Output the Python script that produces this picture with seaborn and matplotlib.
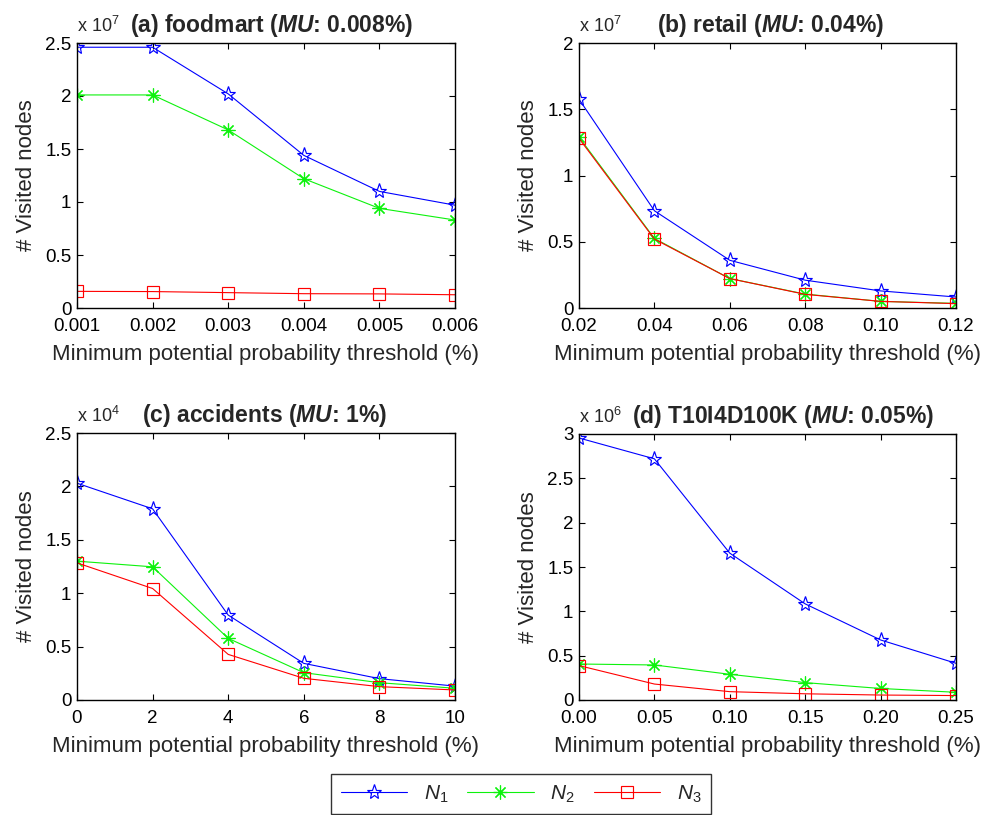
import numpy as np
import pandas as pd
import matplotlib
matplotlib.use("Agg")
import matplotlib.pyplot as plt
from matplotlib.ticker import FuncFormatter, FixedLocator
import seaborn as sns

# ---------------- data ----------------
series_names = ["$N_1$", "$N_2$", "$N_3$"]

foodmart_x = [0.001, 0.002, 0.003, 0.004, 0.005, 0.006]
foodmart_xticklabels = ["0.001", "0.002", "0.003", "0.004", "0.005", "0.006"]
foodmart_n1 = [2.46e7, 2.46e7, 2.02e7, 1.44e7, 1.10e7, 0.97e7]
foodmart_n2 = [2.01e7, 2.01e7, 1.68e7, 1.22e7, 0.94e7, 0.83e7]
foodmart_n3 = [0.157e7, 0.155e7, 0.145e7, 0.135e7, 0.133e7, 0.125e7]

retail_x = [0.02, 0.04, 0.06, 0.08, 0.10, 0.12]
retail_xticklabels = ["0.02", "0.04", "0.06", "0.08", "0.10", "0.12"]
retail_n1 = [1.576e7, 0.734e7, 0.36e7, 0.21e7, 0.129e7, 0.083e7]
retail_n2 = [1.29e7, 0.525e7, 0.222e7, 0.105e7, 0.05e7, 0.035e7]
retail_n3 = [1.28e7, 0.52e7, 0.222e7, 0.103e7, 0.05e7, 0.033e7]

accidents_x = [0, 2, 4, 6, 8, 10]
accidents_xticklabels = ["0", "2", "4", "6", "8", "10"]
accidents_n1 = [2.03e4, 1.79e4, 0.795e4, 0.343e4, 0.20e4, 0.13e4]
accidents_n2 = [1.30e4, 1.247e4, 0.577e4, 0.256e4, 0.162e4, 0.11e4]
accidents_n3 = [1.284e4, 1.044e4, 0.427e4, 0.203e4, 0.125e4, 0.094e4]

t10_x = [0.00, 0.05, 0.10, 0.15, 0.20, 0.25]
t10_xticklabels = ["0.00", "0.05", "0.10", "0.15", "0.20", "0.25"]
t10_n1 = [2.955e6, 2.72e6, 1.656e6, 1.084e6, 0.677e6, 0.414e6]
t10_n2 = [0.406e6, 0.395e6, 0.29e6, 0.196e6, 0.13e6, 0.087e6]
t10_n3 = [0.388e6, 0.18e6, 0.094e6, 0.07e6, 0.056e6, 0.05e6]

titles = [
    r"(a) foodmart ($\mathbfit{MU}$: 0.008%)",
    r"(b) retail ($\mathbfit{MU}$: 0.04%)",
    r"(c) accidents ($\mathbfit{MU}$: 1%)",
    r"(d) T10I4D100K ($\mathbfit{MU}$: 0.05%)",
]
exponents = [7, 7, 4, 6]
yticks_scaled = [
    [0, 0.5, 1, 1.5, 2, 2.5],
    [0, 0.5, 1, 1.5, 2],
    [0, 0.5, 1, 1.5, 2, 2.5],
    [0, 0.5, 1, 1.5, 2, 2.5, 3],
]
xlabel = "Minimum potential probability threshold (%)"
ylabel = "# Visited nodes"

# ---------------- style ----------------
sns.set_style("ticks")
plt.rcParams["font.family"] = ["Liberation Sans", "DejaVu Sans"]
plt.rcParams["mathtext.fontset"] = "custom"
plt.rcParams["mathtext.rm"] = "Liberation Sans"
plt.rcParams["mathtext.it"] = "Liberation Sans:italic"
plt.rcParams["mathtext.bf"] = "Liberation Sans:bold"
try:
    plt.rcParams["mathtext.bfit"] = "Liberation Sans:italic:bold"
except KeyError:
    pass

colors = {"$N_1$": (0, 0, 1), "$N_2$": (0.05, 0.95, 0.05), "$N_3$": (1, 0, 0)}
markers = {"$N_1$": "*", "$N_2$": (8, 2, 0), "$N_3$": "s"}
msizes = {"$N_1$": 11, "$N_2$": 10, "$N_3$": 8}

fig = plt.figure(figsize=(9.89, 8.15), dpi=100)
W, H = 989, 815
boxes = [
    (77, 43, 455, 308),
    (579, 43, 956, 308),
    (77, 433, 455, 700),
    (579, 434, 956, 700),
]
title_x = [0.515, 0.509, 0.495, 0.542]

panels = [
    (foodmart_x, foodmart_xticklabels, [foodmart_n1, foodmart_n2, foodmart_n3]),
    (retail_x, retail_xticklabels, [retail_n1, retail_n2, retail_n3]),
    (accidents_x, accidents_xticklabels, [accidents_n1, accidents_n2, accidents_n3]),
    (t10_x, t10_xticklabels, [t10_n1, t10_n2, t10_n3]),
]

axes = []
for i, ((x0, y0, x1, y1), (xs, xtl, ys)) in enumerate(zip(boxes, panels)):
    ax = fig.add_axes([x0 / W, 1 - y1 / H, (x1 - x0) / W, (y1 - y0) / H])
    axes.append(ax)
    rows = []
    for name, vals in zip(series_names, ys):
        for xv, yv in zip(xs, vals):
            rows.append({"x": xv, "y": yv, "series": name})
    df = pd.DataFrame(rows)
    for name in series_names:
        sub = df[df["series"] == name]
        sns.lineplot(data=sub, x="x", y="y", ax=ax, color=colors[name],
                     marker=markers[name], markersize=msizes[name],
                     mfc="none", mec=colors[name], mew=0.85, lw=0.8,
                     label=name, legend=False, sort=False)
    scale = 10 ** exponents[i]
    ax.set_xlim(xs[0], xs[-1])
    ax.set_ylim(0, yticks_scaled[i][-1] * scale)
    ax.xaxis.set_major_locator(FixedLocator(xs))
    ax.set_xticklabels(xtl)
    ax.yaxis.set_major_locator(FixedLocator([v * scale for v in yticks_scaled[i]]))
    ax.yaxis.set_major_formatter(FuncFormatter(lambda v, p, s=scale: f"{v / s:g}"))
    ax.tick_params(direction="in", length=4, width=0.8, top=True, right=True,
                   labelsize=13.5, colors="black")
    ax.tick_params(axis="x", pad=7)
    ax.tick_params(axis="y", pad=4)
    for sp in ax.spines.values():
        sp.set_visible(True)
        sp.set_linewidth(1.0)
        sp.set_color("black")
    ax.set_xlabel(xlabel, fontsize=16, labelpad=7)
    ax.set_ylabel(ylabel, fontsize=16, labelpad=6)
    ax.set_title(titles[i], fontsize=16.5, fontweight="bold", x=title_x[i], pad=8)
    ax.text(0.0, 1.025, r"x 10$^{%d}$" % exponents[i], transform=ax.transAxes,
            ha="left", va="bottom", fontsize=13)

handles = axes[0].get_lines()[:3]
leg = fig.legend(handles, [r"$\mathit{N_1}$", r"$\mathit{N_2}$", r"$\mathit{N_3}$"],
                 loc="upper center", bbox_to_anchor=(521 / W, 1 - 774 / H), ncol=3,
                 fontsize=15, frameon=True, fancybox=False, edgecolor="black",
                 handlelength=3.2, columnspacing=0.9, borderpad=0.45,
                 borderaxespad=0.0)
leg.get_frame().set_linewidth(1.0)

fig.savefig("out.png", dpi=100)
